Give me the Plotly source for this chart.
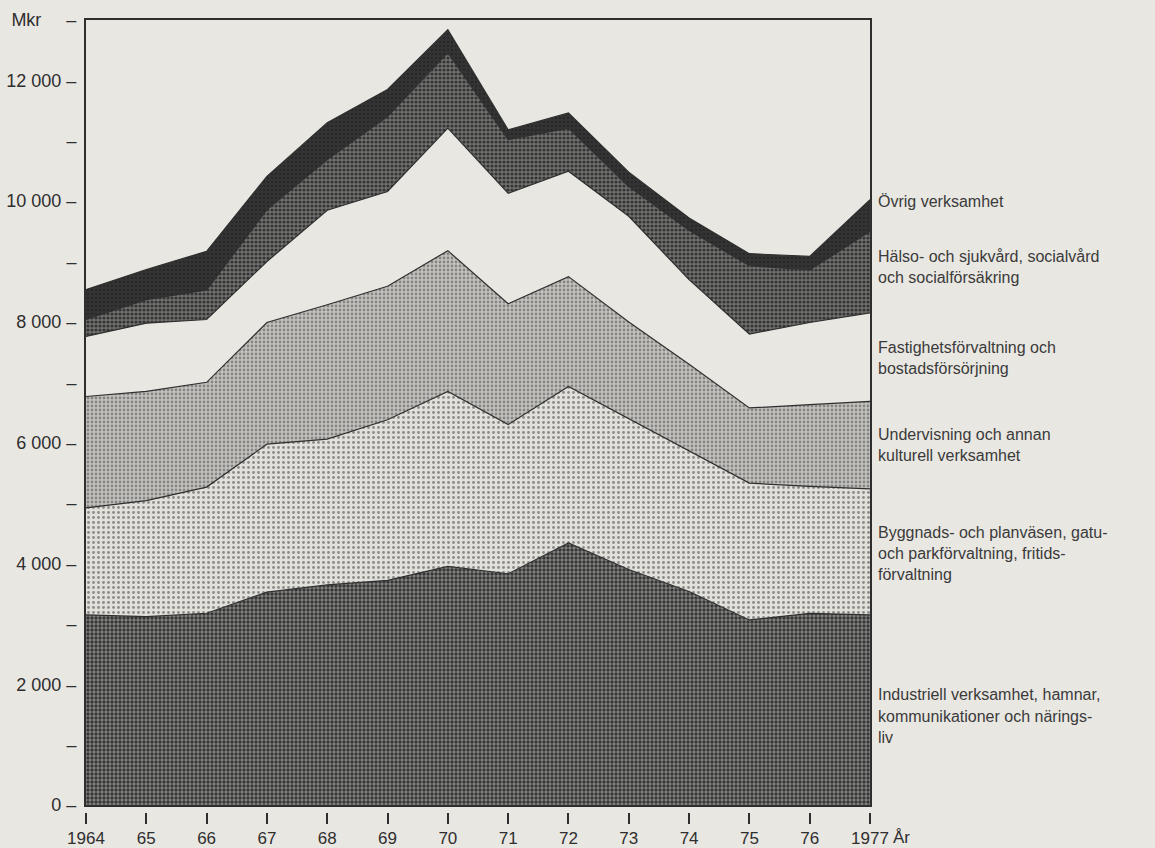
import plotly.graph_objects as go

# ---- data (Mkr) ----
years = [1964, 1965, 1966, 1967, 1968, 1969, 1970, 1971, 1972, 1973, 1974, 1975, 1976, 1977]
year_labels = ["1964", "65", "66", "67", "68", "69", "70", "71", "72", "73", "74", "75", "76", "1977"]

industriell = [3150, 3120, 3175, 3525, 3645, 3720, 3950, 3830, 4340, 3900, 3535, 3065, 3175, 3150]
byggnads = [1770, 1920, 2090, 2450, 2415, 2660, 2900, 2470, 2590, 2500, 2325, 2265, 2100, 2085]
undervisning = [1845, 1810, 1735, 2015, 2225, 2210, 2330, 2000, 1820, 1600, 1440, 1245, 1355, 1450]
fastighets = [995, 1130, 1040, 1010, 1565, 1570, 2030, 1830, 1745, 1750, 1400, 1225, 1360, 1465]
halso = [280, 390, 490, 860, 840, 1240, 1250, 890, 715, 490, 820, 1130, 870, 1350]
ovrig = [495, 495, 640, 550, 610, 450, 380, 160, 250, 240, 200, 200, 225, 525]

series_names = [
    "Industriell verksamhet",
    "Byggnads- och planväsen",
    "Undervisning",
    "Fastighetsförvaltning",
    "Hälso- och sjukvård",
    "Övrig verksamhet",
]
series_values = [industriell, byggnads, undervisning, fastighets, halso, ovrig]

y_tick_vals = list(range(0, 14000, 1000))
y_tick_text = []
for v in y_tick_vals:
    if v == 13000:
        y_tick_text.append("Mkr\u00a0\u00a0\u00a0\u00a0\u00a0–")
    elif v % 2000 == 0:
        y_tick_text.append((f"{v:,}".replace(",", " ") if v else "0") + " –")
    else:
        y_tick_text.append("–")

legend_lines = [
    ("Övrig verksamhet", 202),
    ("Hälso- och sjukvård, socialvård", 256),
    ("och socialförsäkring", 277),
    ("Fastighetsförvaltning och", 347),
    ("bostadsförsörjning", 368),
    ("Undervisning och annan", 434),
    ("kulturell verksamhet", 455),
    ("Byggnads- och planväsen, gatu-", 532),
    ("och parkförvaltning, fritids-", 553),
    ("förvaltning", 574),
    ("Industriell verksamhet, hamnar,", 694),
    ("kommunikationer och närings-", 716),
    ("liv", 737),
]

# ---- styling ----
PAPER = "#e9e7e2"
INK = "#2e2e2e"
FONT = "Liberation Sans, Arial, sans-serif"

styles = [
    dict(bg="#868684", fg="#363636", size=4, sol=0.55),   # Industriell - dark checker
    dict(bg="#e2e0db", fg="#8a8a88", size=5, sol=0.24),   # Byggnads - light dots
    dict(bg="#c4c3bf", fg="#858583", size=4, sol=0.38),   # Undervisning - medium dots
    dict(bg=PAPER, fg=PAPER, size=6, sol=0.1),            # Fastighets - paper
    dict(bg="#727270", fg="#343434", size=4, sol=0.5),    # Hälso - dark checker
    dict(bg="#343434", fg="#282828", size=4, sol=0.3),    # Övrig - near black
]

fig = go.Figure()
for name, vals, st in zip(series_names, series_values, styles):
    fig.add_trace(go.Scatter(
        x=years, y=vals, name=name, stackgroup="one", mode="lines",
        line=dict(color=INK, width=1.2),
        fillcolor=st["bg"],
        fillpattern=dict(shape=".", bgcolor=st["bg"], fgcolor=st["fg"],
                         size=st["size"], solidity=st["sol"], fillmode="replace"),
        showlegend=False, hoverinfo="skip",
    ))

# helper trace so the lower tick axis is drawn
fig.add_trace(go.Scatter(x=[years[0], years[-1]], y=[0, 0], xaxis="x2", mode="none",
                         showlegend=False, hoverinfo="skip"))

W, H = 1155, 848
ML, MR, MT, MB = 86, 285, 20, 36
plot_w = W - ML - MR
plot_h = H - MT - MB
gap = 7  # px between frame and x tick marks

fig.update_layout(
    width=W, height=H,
    margin=dict(l=ML, r=MR, t=MT, b=MB, pad=0, autoexpand=False),
    paper_bgcolor=PAPER, plot_bgcolor=PAPER,
    font=dict(family=FONT, size=18, color=INK),
    xaxis=dict(range=[years[0], years[-1]], showgrid=False, zeroline=False,
               showline=True, linecolor=INK, linewidth=2, mirror=True,
               showticklabels=False, ticks="", automargin=False),
    xaxis2=dict(range=[years[0], years[-1]], overlaying="x", anchor="free", position=0,
                showgrid=False, zeroline=False, showline=False, automargin=False,
                tickmode="array", tickvals=years, ticktext=year_labels,
                ticks="outside", ticklen=11, tickwidth=1.5, tickcolor=INK,
                tickfont=dict(size=17, color=INK, family=FONT)),
    yaxis=dict(range=[0, 13000], domain=[gap / plot_h, 1], showgrid=False, zeroline=False,
               showline=True, linecolor=INK, linewidth=2, mirror=True, automargin=False,
               tickmode="array", tickvals=y_tick_vals, ticktext=y_tick_text,
               ticks="", ticklabelstandoff=4,
               tickfont=dict(size=18, color=INK, family=FONT)),
)

annotations = []
for text, py in legend_lines:
    annotations.append(dict(
        text=text, xref="paper", yref="paper",
        x=(876 - ML) / plot_w, y=(H - MB - py) / plot_h,
        xanchor="left", yanchor="middle", showarrow=False,
        font=dict(size=16, color="#3a3a3a", family=FONT),
    ))
annotations.append(dict(
    text="År", xref="paper", yref="paper",
    x=(891 - ML) / plot_w, y=(H - MB - 837) / plot_h,
    xanchor="left", yanchor="middle", showarrow=False,
    font=dict(size=17, color=INK, family=FONT),
))
fig.update_layout(annotations=annotations)

fig.write_html(
    "out.html",
    config={"displayModeBar": False},
    post_script="document.body.style.margin='0';document.body.style.overflow='hidden';",
)
